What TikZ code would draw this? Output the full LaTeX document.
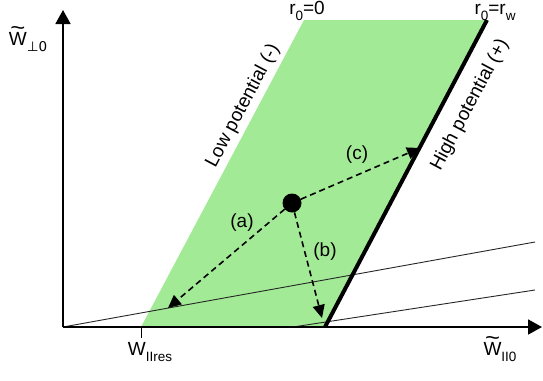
\documentclass[tikz,border=0pt]{standalone}
\usepackage{fontspec}
\setmainfont{Liberation Sans}
\newfontfamily\perpfont{DejaVu Sans}
\usetikzlibrary{arrows.meta, positioning}
\definecolor{regiongreen}{RGB}{163,234,150}
% W with a wide tilde, and a low subscript
\newcommand{\wt}{\leavevmode\setbox0\hbox{W}\rlap{\hbox to\wd0{\hss\raisebox{0.5em}{\scalebox{1.35}[1.2]{\textasciitilde}}\hss}}W}
\newcommand{\sbs}[1]{\raisebox{-0.32em}{\fontsize{13.5}{15}\selectfont #1}}

\begin{document}
\begin{tikzpicture}[x=1pt, y=-1pt,
                axis/.style={line width=1.8pt, -{Triangle[length=14pt, width=15pt]}},
                wall/.style={line width=4pt},
                refline/.style={line width=0.9pt, black!85},
                move/.style={dash pattern=on 6pt off 4pt, line width=1.6pt,
                             -{Triangle[length=13pt, width=12pt]}},
                dot/.style={circle, fill=black, minimum size=19pt, inner sep=0pt},
                lbl/.style={font=\fontsize{19}{21}\selectfont, inner sep=1pt}
            ]
                \useasboundingbox (0,0) rectangle (543,380);

                % corners of the region
                \coordinate (O) at (63,327);
                \coordinate (xtip) at (542,327);
                \coordinate (ytip) at (63,10);
                \coordinate (res) at (141,327);
                \coordinate (lowtop) at (304,20);
                \coordinate (hightop) at (487,20);
                \coordinate (highfoot) at (325,327);

                \fill[regiongreen] (res) -- (lowtop) -- (hightop) -- (highfoot) -- cycle;

                % reference lines
                \coordinate (r1end) at (535,242);
                \coordinate (r2start) at (293,327);
                \coordinate (r2end) at (535,290);
                \draw[refline] (O) -- (r1end);
                \draw[refline] (r2start) -- (r2end);

                \draw[axis] (O) -- (xtip);
                \draw[axis] (O) -- (ytip);
                \draw[line width=0.8pt] (res) -- ++(0,11) coordinate (restick);
                \draw[wall] (highfoot) -- (hightop);

                % moves from the state
                \node[dot] (state) at (292,203) {};
                \coordinate (aend) at (168,308);
                \coordinate (bend) at (322,318);
                \coordinate (cend) at (420,148);
                \draw[move] (state) -- (aend);
                \draw[move] (state) -- (bend);
                \draw[move] (state) -- (cend);

                \node[lbl] (la) at (242,223) {(a)};
                \node[lbl] (lb) at (325,252) {(b)};
                \node[lbl] (lc) at (357,155) {(c)};

                \node[lbl, rotate=62] (low) at (243,106) {Low potential (-)};
                \node[lbl, rotate=62] (high) at (470,105) {High potential (+)};

                \node[lbl, anchor=base] (r0) at (307,14) {r\sbs{0}=0};
                \node[lbl, anchor=base] (r0w) at (495,14) {r\sbs{0}=r\sbs{w}};

                \node[lbl, anchor=base] (yname) at (28,45) {\wt\sbs{\perpfont ⊥0}};
                \node[lbl, anchor=base] (xname) at (500,355) {\wt\sbs{II0}};
                \node[lbl, anchor=base] (resname) at (150,355) {W\sbs{IIres}};
            \end{tikzpicture}
\end{document}
